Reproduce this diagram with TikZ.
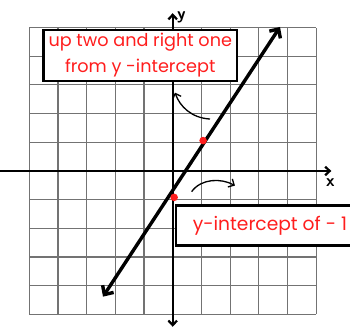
\documentclass[tikz,border=0pt]{standalone}
\usepackage{fontspec}
\setmainfont{Poppins}
\usetikzlibrary{arrows.meta}
\definecolor{lblR}{RGB}{255,30,30}
\definecolor{gridG}{RGB}{115,115,115}
\newcommand{\GR}{5}
\newcommand{\AX}{2.2pt}
\newcommand{\LW}{3.4pt}

\begin{document}
\begin{tikzpicture}[
    gridline/.style={draw=gridG, line width=1.1pt},
    axis/.style={draw=black, line width=\AX, {Straight Barb[length=1.6mm,width=3.0mm]}-{Straight Barb[length=1.6mm,width=3.0mm]}},
    graph/.style={draw=black, line width=\LW, {Straight Barb[length=2.4mm,width=4.6mm]}-{Straight Barb[length=2.4mm,width=4.6mm]}},
    pointer/.style={draw=black, line width=1.3pt, -{Straight Barb[length=1.6mm,width=3.2mm]}},
    dot/.style={circle, fill=lblR, inner sep=0pt, minimum size=7.5pt},
    lbl/.style={draw=black, line width=2.4pt, fill=white, text=lblR, align=center},
    tag/.style={font=\sffamily\bfseries\fontsize{17}{17}\selectfont, inner sep=0pt},
  ]
  \useasboundingbox (-6.02,-5.51) rectangle (6.18,5.96);

  %% ================= grid and axes =================
  \draw[gridline] (-\GR,-\GR) grid (\GR,\GR);
  \coordinate (xL) at (-6.42,0);
  \coordinate (xR) at (5.53,0);
  \coordinate (yT) at (0,5.50);
  \coordinate (yB) at (0,-5.43);
  \draw[axis] (xL) -- (xR);
  \draw[axis] (yB) -- (yT);
  \node[tag] (ylab) at (0.30,5.36) {y};
  \node[tag] (xlab) at (5.50,-0.40) {x};

  %% ================= the line y = 2x - 1 =================
  \coordinate (lnB) at (-2.43,-4.38);
  \coordinate (lnT) at (3.74,5.02);
  \draw[graph] (lnB) -- (lnT);
  \node[dot] (yint) at (0.05,-0.92) {};
  \node[dot] (rpt) at (1.06,1.06) {};

  %% ================= labels =================
  \node[lbl, font=\fontsize{17.5}{26}\selectfont, minimum width=6.76cm, minimum height=1.71cm] (rise) at (-1.13,4.03)
    {up two and right one\\from y -intercept};
  \node[lbl, font=\fontsize{18.5}{22}\selectfont, anchor=north west, inner xsep=0pt,
        minimum width=6.6cm, minimum height=1.39cm, align=left] (icpt) at (0.08,-1.16)
    {\hspace{0.58cm}y-intercept of - 1\hspace{0.7cm}};

  % curved pointers
  \coordinate (c1s) at (1.30,1.81);
  \coordinate (c1e) at (0.08,2.73);
  \draw[pointer] (c1s) .. controls (0.65,1.85) and (0.25,2.25) .. (c1e);
  \coordinate (c2s) at (0.66,-0.72);
  \coordinate (c2e) at (2.17,-0.51);
  \draw[pointer] (c2s) .. controls (1.00,-0.25) and (1.70,-0.25) .. (c2e);

\end{tikzpicture}
\end{document}
